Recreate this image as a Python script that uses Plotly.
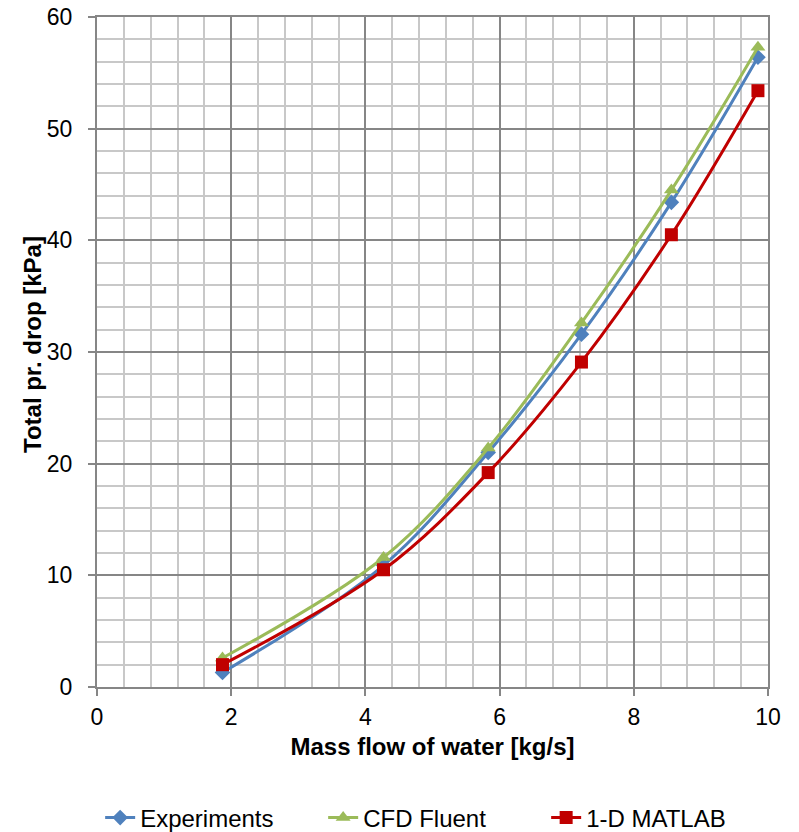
import plotly.graph_objects as go

x_vals = [1.87, 4.27, 5.83, 7.22, 8.56, 9.85]
experiments = [1.3, 10.9, 21.0, 31.6, 43.4, 56.4]
cfd_fluent = [2.6, 11.6, 21.4, 32.6, 44.5, 57.3]
matlab_1d = [2.0, 10.5, 19.2, 29.1, 40.5, 53.4]

series = [
    ("Experiments", experiments, "#4F81BD", "diamond", 12),
    ("CFD Fluent", cfd_fluent, "#9BBB59", "triangle-up", 13),
    ("1-D MATLAB", matlab_1d, "#C00000", "square", 13),
]

fig = go.Figure()
for name, ys, color, sym, size in series:
    fig.add_trace(go.Scatter(
        x=x_vals, y=ys, name=name, mode="lines+markers",
        line=dict(color=color, width=3, shape="spline", smoothing=1.0),
        marker=dict(symbol=sym, size=size, color=color),
    ))

font_family = "Liberation Sans, Arial, sans-serif"
W, H = 799, 832
axis_common = dict(
    showline=True, linecolor="#868686", linewidth=2, mirror=True,
    ticks="outside", ticklen=7, tickcolor="#868686", tickwidth=1.5,
    showgrid=True, gridcolor="#868686", gridwidth=1.5,
    zeroline=False, automargin=False,
    tickfont=dict(family=font_family, size=23, color="#000"),
)

fig.update_xaxes(
    range=[0, 10], dtick=2, tick0=0,
    domain=[97 / W, 768 / W],
    minor=dict(dtick=0.4, showgrid=True, gridcolor="#C8C8C8", gridwidth=1.5),
    title=dict(text="<b>Mass flow of water [kg/s]</b>",
               font=dict(family=font_family, size=24, color="#000"), standoff=10),
    ticklabelstandoff=1,
    **axis_common,
)
fig.update_yaxes(
    range=[0, 60], dtick=10, tick0=0,
    domain=[(H - 687) / H, (H - 17) / H],
    minor=dict(dtick=2, showgrid=True, gridcolor="#C8C8C8", gridwidth=1.5),
    ticklabelstandoff=11,
    **axis_common,
)

fig.add_annotation(
    text="<b>Total pr. drop [kPa]</b>", textangle=-90,
    xref="paper", yref="paper", x=32 / W, y=(H - 345) / H,
    xanchor="center", yanchor="middle", showarrow=False,
    font=dict(family=font_family, size=24, color="#000"),
)

fig.update_layout(
    width=W, height=H,
    margin=dict(l=0, r=0, t=0, b=0, autoexpand=False),
    plot_bgcolor="white", paper_bgcolor="white",
    font=dict(family=font_family, color="#000"),
    legend=dict(orientation="h", x=0.544, xanchor="center",
                y=(H - 818) / H, yanchor="middle",
                font=dict(family=font_family, size=24, color="#000"),
                entrywidth=178, entrywidthmode="pixels"),
    showlegend=True,
)

fig.write_html("out.html")
